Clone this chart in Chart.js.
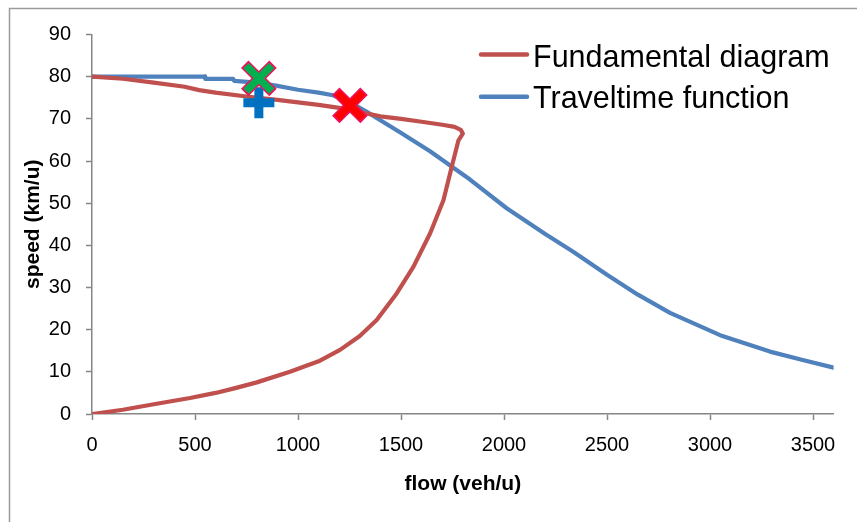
<!DOCTYPE html>
<html>
<head>
<meta charset="utf-8">
<script src="https://cdn.jsdelivr.net/npm/chart.js@4/dist/chart.umd.min.js"></script>
<style>
  html, body { margin: 0; padding: 0; background: #fff; }
  #wrap { width: 857px; height: 522px; }
</style>
</head>
<body>
<div id="wrap"><canvas id="c" width="857" height="522"></canvas></div>
<script>
// ---- data ----
const seriesNames = ['Fundamental diagram', 'Traveltime function'];

// Fundamental diagram: free-flow branch (0,80) -> capacity, then congested branch back to (0,0)
const fdFlow  = [0, 150, 300, 450, 520, 600, 750, 900, 1000, 1100, 1200, 1250, 1300, 1400, 1500, 1600, 1700, 1760, 1790, 1800,
                 1779, 1746, 1706, 1641, 1560, 1479, 1382, 1300, 1204, 1100, 961, 800, 700, 600, 476, 300, 150, 0];
const fdSpeed = [80, 79.5, 78.6, 77.6, 76.8, 76.2, 75.3, 74.5, 73.9, 73.3, 72.6, 72.2, 71.6, 70.6, 70.0, 69.3, 68.6, 68.1, 67.4, 66.5,
                 64.9, 58.6, 50.7, 42.8, 34.9, 28.6, 22.3, 18.5, 15.2, 12.5, 10.0, 7.5, 6.2, 5.0, 3.8, 2.3, 1.0, 0];

// Traveltime function
const ttFlow  = [0, 549, 550, 685, 690, 800, 900, 1000, 1100, 1170, 1250, 1330, 1382, 1495, 1641, 1835, 2013, 2200, 2336, 2500, 2650, 2806, 3049, 3291, 3450, 3600];
const ttSpeed = [80, 80, 79.5, 79.5, 79, 78.6, 77.8, 76.9, 76.2, 75.6, 74.0, 71.8, 70.2, 66.8, 62.3, 55.6, 48.8, 42.7, 38.5, 33.0, 28.3, 24.0, 18.7, 14.8, 12.8, 11];

// single markers
const greenX   = { flow: 810,  speed: 79.6 };
const bluePlus = { flow: 810,  speed: 73.8 };
const redX     = { flow: 1252, speed: 73.2 };

const xTickValues = [0, 500, 1000, 1500, 2000, 2500, 3000, 3500];
const yTickValues = [0, 10, 20, 30, 40, 50, 60, 70, 80, 90];
const xMax = 3600, yMax = 90;

// ---- build ----
const toPts = (xs, ys) => xs.map((x, i) => ({ x: x, y: ys[i] }));
const FONT = "'Liberation Sans', Arial, sans-serif";
const RED = '#C0504D', BLUE = '#4F81BD';

const legendPlugin = {
  id: 'customLegend',
  afterDraw(chart) {
    const ctx = chart.ctx;
    ctx.save();
    const rows = [
      { color: RED, text: seriesNames[0], ly: 54.5, ty: 66.5 },
      { color: BLUE, text: seriesNames[1], ly: 96.7, ty: 107.8 }
    ];
    rows.forEach(r => {
      ctx.strokeStyle = r.color;
      ctx.lineWidth = 4.5;
      ctx.lineCap = 'round';
      ctx.beginPath();
      ctx.moveTo(481, r.ly);
      ctx.lineTo(527, r.ly);
      ctx.stroke();
      ctx.fillStyle = '#000';
      ctx.font = "30.5px " + FONT;
      ctx.textBaseline = 'alphabetic';
      ctx.textAlign = 'left';
      ctx.fillText(r.text, 533, r.ty);
    });
    ctx.restore();
  }
};

const framePlugin = {
  id: 'frame',
  beforeDraw(chart) {
    const ctx = chart.ctx;
    ctx.save();
    ctx.fillStyle = '#fff';
    ctx.fillRect(0, 0, chart.width, chart.height);
    ctx.strokeStyle = '#9a9a9a';
    ctx.lineWidth = 1.5;
    ctx.beginPath();
    ctx.moveTo(9.5, chart.height + 5);
    ctx.lineTo(9.5, 8.5);
    ctx.lineTo(chart.width + 5, 8.5);
    ctx.stroke();
    ctx.restore();
  }
};

const axisCommon = {
  grid: { drawOnChartArea: false, drawTicks: true, tickLength: 6, tickColor: '#868686', tickWidth: 1.5 },
  border: { color: '#868686', width: 1.5 }
};
const zeroPad = s => { s.paddingLeft = 0; s.paddingRight = 0; s.paddingTop = 0; s.paddingBottom = 0; };

new Chart(document.getElementById('c'), {
  type: 'scatter',
  data: {
    datasets: [
      { label: 'greenX-inner', data: [{ x: greenX.flow, y: greenX.speed }], pointStyle: 'crossRot',
        pointRadius: 18, pointBorderWidth: 7.5, pointBorderColor: '#00B050', pointBackgroundColor: '#00B050', order: 0 },
      { label: 'greenX-outline', data: [{ x: greenX.flow, y: greenX.speed }], pointStyle: 'crossRot',
        pointRadius: 20, pointBorderWidth: 10.5, pointBorderColor: '#E8175D', pointBackgroundColor: '#E8175D', order: 1 },
      { label: 'redX-inner', data: [{ x: redX.flow, y: redX.speed }], pointStyle: 'crossRot',
        pointRadius: 18, pointBorderWidth: 7.5, pointBorderColor: '#FF0000', pointBackgroundColor: '#FF0000', order: 0 },
      { label: 'redX-outline', data: [{ x: redX.flow, y: redX.speed }], pointStyle: 'crossRot',
        pointRadius: 20, pointBorderWidth: 10.5, pointBorderColor: '#F0105A', pointBackgroundColor: '#F0105A', order: 1 },
      { label: 'plus', data: [{ x: bluePlus.flow, y: bluePlus.speed }], pointStyle: 'cross',
        pointRadius: 15.5, pointBorderWidth: 9, pointBorderColor: '#0070C0', pointBackgroundColor: '#0070C0', order: 2 },
      { label: seriesNames[0], data: toPts(fdFlow, fdSpeed), showLine: true, borderColor: RED, borderWidth: 4.2,
        pointRadius: 0, tension: 0, borderJoinStyle: 'round', borderCapStyle: 'round', order: 3 },
      { label: seriesNames[1], data: toPts(ttFlow, ttSpeed), showLine: true, borderColor: BLUE, borderWidth: 4.2,
        pointRadius: 0, tension: 0, borderJoinStyle: 'round', borderCapStyle: 'round', order: 4 }
    ]
  },
  options: {
    responsive: false,
    animation: false,
    events: [],
    layout: { autoPadding: false, padding: { left: 0, right: 23.4, top: 34.5, bottom: 0 } },
    plugins: { legend: { display: false }, tooltip: { enabled: false } },
    scales: {
      x: Object.assign({
        type: 'linear', min: 0, max: xMax,
        afterFit: s => { s.height = 108; zeroPad(s); },
        afterBuildTicks: s => { s.ticks = xTickValues.map(v => ({ value: v })); },
        ticks: { maxRotation: 0, autoSkip: false, padding: 13, callback: v => String(v),
                 color: '#000', font: { family: FONT, size: 20 } },
        title: { display: true, text: 'flow (veh/u)', color: '#000', font: { family: FONT, size: 21, weight: 'bold' },
                 padding: { top: 0, bottom: 25 } }
      }, axisCommon),
      y: Object.assign({
        type: 'linear', min: 0, max: yMax,
        afterFit: s => { s.width = 92; zeroPad(s); },
        afterBuildTicks: s => { s.ticks = yTickValues.map(v => ({ value: v })); },
        ticks: { autoSkip: false, padding: 15, callback: v => String(v), color: '#000', font: { family: FONT, size: 20 } },
        title: { display: true, text: 'speed (km/u)', color: '#000', font: { family: FONT, size: 21, weight: 'bold' },
                 padding: { top: 21, bottom: 0 } }
      }, axisCommon)
    }
  },
  plugins: [framePlugin, legendPlugin]
});
</script>
</body>
</html>
